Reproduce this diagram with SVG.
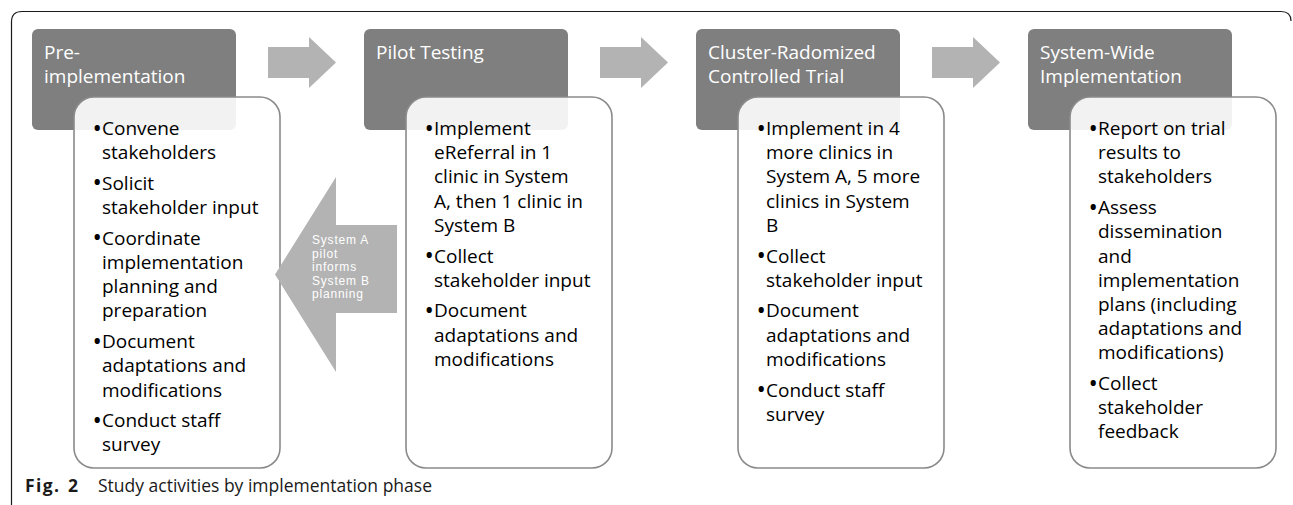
<svg xmlns="http://www.w3.org/2000/svg" width="1293" height="505" viewBox="0 0 1293 505">
  <style>
    .frame { fill: none; stroke: #1a1a1a; stroke-width: 1.2; }
    .head { fill: #7f7f7f; }
    .head-text { font-family: "Open Sans", "Liberation Sans", sans-serif; font-size: 19px; fill: #ffffff; }
    .card { fill: #ffffff; fill-opacity: 0.9; stroke: #8a8a8a; stroke-width: 1.6; }
    .card-text { font-family: "Open Sans", "Liberation Sans", sans-serif; font-size: 19px; fill: #000000; }
    .bl { font-size: 25px; }
    .flow { fill: #b3b3b3; }
    .flow-text { font-family: "Liberation Sans", Arial, sans-serif; font-size: 12px; letter-spacing: 0.8px; fill: #ffffff; }
    .caption { font-family: "Open Sans", "Liberation Sans", sans-serif; font-size: 17.5px; fill: #1a1a1a; }
    .fig { font-weight: bold; letter-spacing: 1.4px; }
  </style>

  <!-- figure frame: open at the bottom and on the right -->
  <path class="frame" d="M11.5 505 V22 Q11.5 11.5 22 11.5 H1281 Q1291 11.5 1291 21"/>

  <!-- phase 1 -->
  <g id="pre-implementation">
    <rect class="head" x="32" y="29" width="204" height="101" rx="6"/>
    <text class="head-text"><tspan x="44" y="59">Pre-</tspan><tspan x="44" y="83">implementation</tspan></text>
    <rect class="card" x="74" y="97" width="206" height="371" rx="20"/>
    <text class="card-text">
      <tspan class="bl" x="92.5" y="136.5">•</tspan><tspan x="102" y="135">Convene</tspan>
      <tspan x="102" y="159.2">stakeholders</tspan>
      <tspan class="bl" x="92.5" y="191.4">•</tspan><tspan x="102" y="189.9">Solicit</tspan>
      <tspan x="102" y="214.1">stakeholder input</tspan>
      <tspan class="bl" x="92.5" y="246.3">•</tspan><tspan x="102" y="244.8">Coordinate</tspan>
      <tspan x="102" y="269">implementation</tspan>
      <tspan x="102" y="293.2">planning and</tspan>
      <tspan x="102" y="317.4">preparation</tspan>
      <tspan class="bl" x="92.5" y="349.6">•</tspan><tspan x="102" y="348.1">Document</tspan>
      <tspan x="102" y="372.3">adaptations and</tspan>
      <tspan x="102" y="396.5">modifications</tspan>
      <tspan class="bl" x="92.5" y="428.7">•</tspan><tspan x="102" y="427.2">Conduct staff</tspan>
      <tspan x="102" y="451.4">survey</tspan>
    </text>
  </g>

  <!-- phase 2 -->
  <g id="pilot-testing">
    <rect class="head" x="364" y="29" width="204" height="101" rx="6"/>
    <text class="head-text"><tspan x="376" y="59">Pilot Testing</tspan></text>
    <rect class="card" x="406" y="97" width="206" height="371" rx="20"/>
    <text class="card-text">
      <tspan class="bl" x="424.5" y="136.5">•</tspan><tspan x="434" y="135">Implement</tspan>
      <tspan x="434" y="159.2">eReferral in 1</tspan>
      <tspan x="434" y="183.4">clinic in System</tspan>
      <tspan x="434" y="207.6">A, then 1 clinic in</tspan>
      <tspan x="434" y="231.8">System B</tspan>
      <tspan class="bl" x="424.5" y="264">•</tspan><tspan x="434" y="262.5">Collect</tspan>
      <tspan x="434" y="286.7">stakeholder input</tspan>
      <tspan class="bl" x="424.5" y="318.9">•</tspan><tspan x="434" y="317.4">Document</tspan>
      <tspan x="434" y="341.6">adaptations and</tspan>
      <tspan x="434" y="365.8">modifications</tspan>
    </text>
  </g>

  <!-- phase 3 -->
  <g id="cluster-rct">
    <rect class="head" x="696" y="29" width="204" height="101" rx="6"/>
    <text class="head-text"><tspan x="708" y="59">Cluster-Radomized</tspan><tspan x="708" y="83">Controlled Trial</tspan></text>
    <rect class="card" x="738" y="97" width="206" height="371" rx="20"/>
    <text class="card-text">
      <tspan class="bl" x="756.5" y="136.5">•</tspan><tspan x="766" y="135">Implement in 4</tspan>
      <tspan x="766" y="159.2">more clinics in</tspan>
      <tspan x="766" y="183.4">System A, 5 more</tspan>
      <tspan x="766" y="207.6">clinics in System</tspan>
      <tspan x="766" y="231.8">B</tspan>
      <tspan class="bl" x="756.5" y="264">•</tspan><tspan x="766" y="262.5">Collect</tspan>
      <tspan x="766" y="286.7">stakeholder input</tspan>
      <tspan class="bl" x="756.5" y="318.9">•</tspan><tspan x="766" y="317.4">Document</tspan>
      <tspan x="766" y="341.6">adaptations and</tspan>
      <tspan x="766" y="365.8">modifications</tspan>
      <tspan class="bl" x="756.5" y="398">•</tspan><tspan x="766" y="396.5">Conduct staff</tspan>
      <tspan x="766" y="420.7">survey</tspan>
    </text>
  </g>

  <!-- phase 4 -->
  <g id="system-wide">
    <rect class="head" x="1028" y="29" width="204" height="101" rx="6"/>
    <text class="head-text"><tspan x="1040" y="59">System-Wide</tspan><tspan x="1040" y="83">Implementation</tspan></text>
    <rect class="card" x="1070" y="97" width="206" height="371" rx="20"/>
    <text class="card-text">
      <tspan class="bl" x="1088.5" y="136.5">•</tspan><tspan x="1098" y="135">Report on trial</tspan>
      <tspan x="1098" y="159.2">results to</tspan>
      <tspan x="1098" y="183.4">stakeholders</tspan>
      <tspan class="bl" x="1088.5" y="215.6">•</tspan><tspan x="1098" y="214.1">Assess</tspan>
      <tspan x="1098" y="238.3">dissemination</tspan>
      <tspan x="1098" y="262.5">and</tspan>
      <tspan x="1098" y="286.7">implementation</tspan>
      <tspan x="1098" y="310.9">plans (including</tspan>
      <tspan x="1098" y="335.1">adaptations and</tspan>
      <tspan x="1098" y="359.3">modifications)</tspan>
      <tspan class="bl" x="1088.5" y="391.5">•</tspan><tspan x="1098" y="390">Collect</tspan>
      <tspan x="1098" y="414.2">stakeholder</tspan>
      <tspan x="1098" y="438.4">feedback</tspan>
    </text>
  </g>

  <!-- block arrows between phases -->
  <g id="connectors">
    <path class="flow" d="M268 47 H309 V37 L336 62.5 L309 88 V78 H268 Z"/>
    <path class="flow" d="M600 47 H641 V37 L668 62.5 L641 88 V78 H600 Z"/>
    <path class="flow" d="M932 47 H973 V37 L1000 62.5 L973 88 V78 H932 Z"/>
    <g id="feedback-arrow">
      <path class="flow" d="M397 225 V313 H336 V372 L275 274.5 L336 177 V225 Z"/>
      <text class="flow-text">
        <tspan x="312" y="244">System A</tspan>
        <tspan x="312" y="257.5">pilot</tspan>
        <tspan x="312" y="271">informs</tspan>
        <tspan x="312" y="284.5">System B</tspan>
        <tspan x="312" y="298">planning</tspan>
      </text>
    </g>
  </g>

  <text class="caption"><tspan class="fig" x="25" y="492">Fig.</tspan><tspan class="fig" x="68" y="492">2</tspan><tspan x="98" y="492">Study activities by implementation phase</tspan></text>
</svg>
